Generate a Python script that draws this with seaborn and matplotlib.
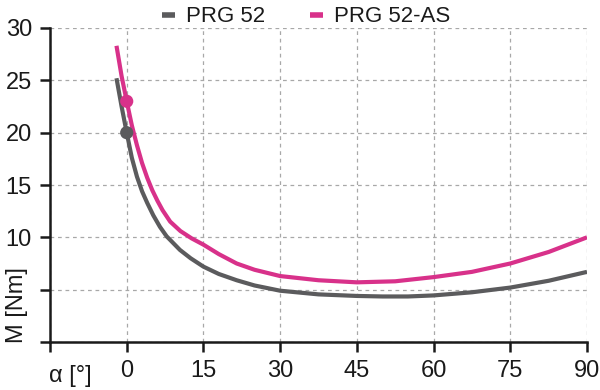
import matplotlib
matplotlib.use("Agg")
import matplotlib.pyplot as plt
import seaborn as sns
import pandas as pd

# ---- data ----
series_names = ["PRG 52", "PRG 52-AS"]
x_prg52 = [-2, -1, 0, 1, 2, 3, 4, 5.2, 6.5, 7.8, 10.4, 12.5, 15, 18, 21.5, 25, 30, 37.5, 45, 50, 55, 60, 67.5, 75, 82.5, 90]
y_prg52 = [25.2, 22.5, 20.0, 17.6, 15.8, 14.4, 13.3, 12.1, 11.0, 10.1, 8.8, 8.0, 7.2, 6.5, 5.9, 5.4, 4.9, 4.55, 4.4, 4.35, 4.35, 4.45, 4.75, 5.2, 5.85, 6.7]
x_prg52as = [-2, -1, 0, 1, 2, 3, 4, 5, 6, 7, 8.5, 10.5, 12.7, 15, 18, 21.5, 25, 30, 37.5, 45, 52.5, 60, 67.5, 75, 82.5, 90]
y_prg52as = [28.3, 25.4, 23.0, 20.7, 18.8, 17.1, 15.7, 14.5, 13.5, 12.6, 11.5, 10.6, 9.9, 9.3, 8.4, 7.5, 6.9, 6.3, 5.9, 5.7, 5.8, 6.2, 6.7, 7.5, 8.6, 10.0]
marker_x = [0, 0]
marker_y = [20, 23]
x_ticks = [-15, 0, 15, 30, 45, 60, 75, 90]
x_ticklabels = ["", "0", "15", "30", "45", "60", "75", "90"]
y_ticks = [0, 5, 10, 15, 20, 25, 30]
y_ticklabels = ["", "", "10", "15", "20", "25", "30"]
colors = {"PRG 52": "#5b5b5d", "PRG 52-AS": "#d8318a"}

df = pd.concat([
    pd.DataFrame({"alpha": x_prg52, "M": y_prg52, "series": series_names[0]}),
    pd.DataFrame({"alpha": x_prg52as, "M": y_prg52as, "series": series_names[1]}),
], ignore_index=True)
dm = pd.DataFrame({"alpha": marker_x, "M": marker_y, "series": series_names})

sns.set_theme(style="white")
plt.rcParams["font.family"] = ["Liberation Sans", "DejaVu Sans"]

fig = plt.figure(figsize=(6, 3.9), dpi=100)
ax = fig.add_axes([50/600, 1-342/390, 537/600, 314/390])

sns.lineplot(data=df, x="alpha", y="M", hue="series", palette=colors,
             linewidth=3, sort=False, ax=ax, legend=True)
sns.scatterplot(data=dm, x="alpha", y="M", hue="series", palette=colors,
                s=90, edgecolor="none", ax=ax, legend=False, zorder=5)
for ln in ax.lines:
    ln.set_solid_joinstyle("round")
    ln.set_solid_capstyle("butt")

ax.set_xlim(-15, 90)
ax.set_ylim(0, 30)
ax.set_xticks(x_ticks)
ax.set_xticklabels(x_ticklabels)
ax.set_yticks(y_ticks)
ax.set_yticklabels(y_ticklabels)
ax.set_xlabel("")
ax.set_ylabel("")
ax.grid(True, linestyle=(0, (3, 3)), color="#a8a8a8", linewidth=0.9)
for s in ["top", "right"]:
    ax.spines[s].set_visible(False)
for s in ["left", "bottom"]:
    ax.spines[s].set_color("#1a1a1a")
    ax.spines[s].set_linewidth(1.8)
ax.tick_params(axis="both", which="both", direction="out", length=7, width=1.8,
               color="#1a1a1a", labelsize=17, labelcolor="#1a1a1a", pad=6,
               left=True, bottom=True)

fig.text(70/600, 1-376/390, "α [°]", fontsize=17, color="#1a1a1a", ha="center", va="center")
fig.text(17/600, 1-305/390, "M [Nm]", fontsize=17, color="#1a1a1a", ha="center",
         va="center", rotation=90)

handles, labels = ax.get_legend_handles_labels()
ax.get_legend().remove()
for h in handles:
    h.set_linewidth(4)
fig.legend(handles, labels, loc="upper center", bbox_to_anchor=(0.51, 1.035), ncol=2,
           frameon=False, fontsize=16, handlelength=0.6, handletextpad=0.5,
           columnspacing=2.0, labelcolor="#1a1a1a")

fig.savefig("out.png", dpi=100)
